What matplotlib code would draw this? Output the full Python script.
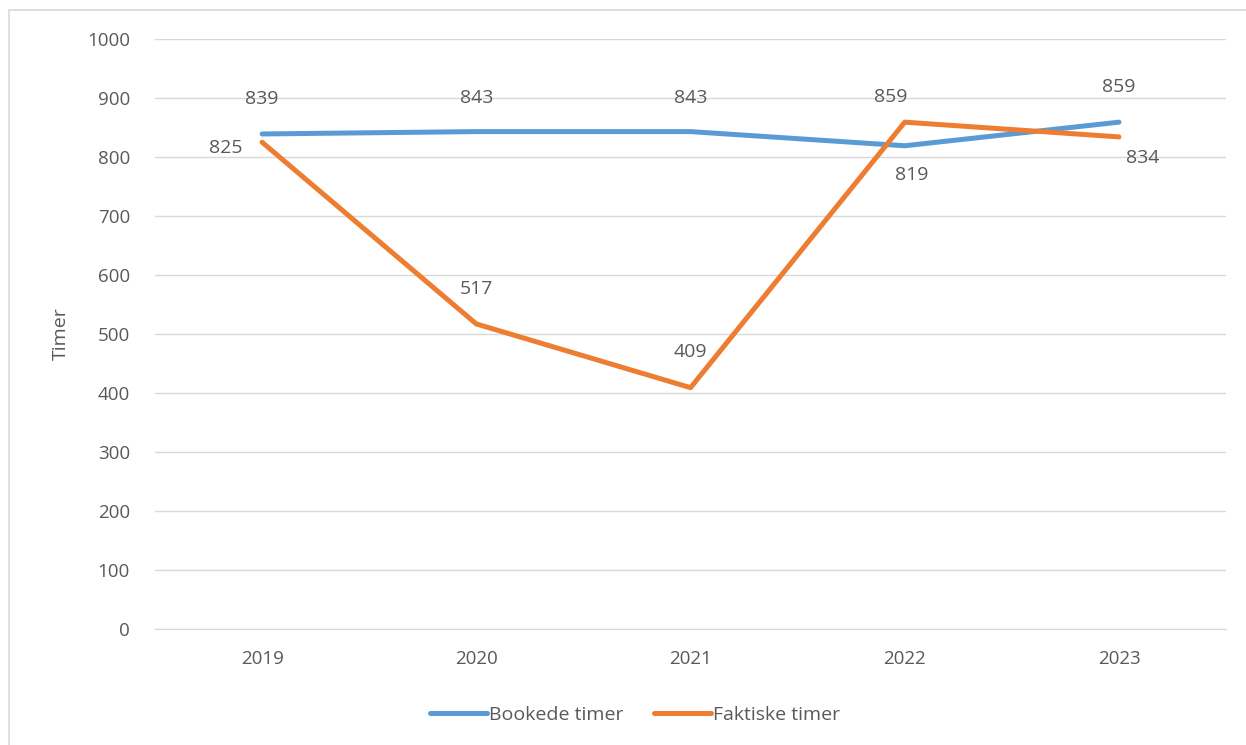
import matplotlib.pyplot as plt
from matplotlib.patches import Rectangle

years = ["2019", "2020", "2021", "2022", "2023"]
bookede = [839, 843, 843, 819, 859]
faktiske = [825, 517, 409, 859, 834]

# label offsets in points (dx, dy)
bookede_off = [(0, 25), (0, 24), (0, 24), (5, -21), (0, 25)]
faktiske_off = [(-26, -4), (0, 25), (0, 26), (-10, 18), (17, -15)]

plt.rcParams['font.family'] = ['Open Sans', 'DejaVu Sans']
txt = '#595959'

fig = plt.figure(figsize=(12.46, 7.45), dpi=100)
ax = fig.add_axes([0.1244, 0.1557, 0.8596, 0.792])

x = range(len(years))
blue = '#5B9BD5'
orange = '#ED7D31'
ax.plot(x, bookede, color=blue, lw=3.6, solid_capstyle='round', label='Bookede timer', zorder=3)
ax.plot(x, faktiske, color=orange, lw=3.6, solid_capstyle='round', label='Faktiske timer', zorder=3)

for i, v in enumerate(bookede):
    ax.annotate(str(v), (i, v), xytext=bookede_off[i], textcoords='offset points',
                ha='center', va='center', fontsize=14, color=txt)
for i, v in enumerate(faktiske):
    ax.annotate(str(v), (i, v), xytext=faktiske_off[i], textcoords='offset points',
                ha='center', va='center', fontsize=14, color=txt)

ax.set_xlim(-0.5, 4.5)
ax.set_ylim(0, 1000)
ax.set_yticks(range(0, 1001, 100))
ax.set_xticks(list(x))
ax.set_xticklabels(years)
ax.grid(axis='y', color='#D9D9D9', lw=1)
ax.set_axisbelow(True)
for s in ['top', 'right', 'left']:
    ax.spines[s].set_visible(False)
ax.spines['bottom'].set_color('#D9D9D9')
ax.tick_params(axis='both', length=0, labelsize=13.5, labelcolor=txt, pad=15)
ax.tick_params(axis='y', pad=18)
ax.set_ylabel('Timer', fontsize=14, color=txt, labelpad=12)

ax.legend(loc='center', bbox_to_anchor=(0.5, 0.5), bbox_transform=fig.transFigure,
          ncol=2, frameon=False, fontsize=14, labelcolor=txt, handlelength=2.9,
          handletextpad=0.1, columnspacing=1.6)
leg = ax.get_legend()
leg.set_bbox_to_anchor((635 / 1246, 1 - 715 / 745), transform=fig.transFigure)

fig.patches.append(Rectangle((9 / 1246, -0.01), 1.02, 1 - 10 / 745 + 0.01,
                             transform=fig.transFigure, fill=False, edgecolor='#D9D9D9', lw=1.2))

fig.savefig('out.png', dpi=100)
